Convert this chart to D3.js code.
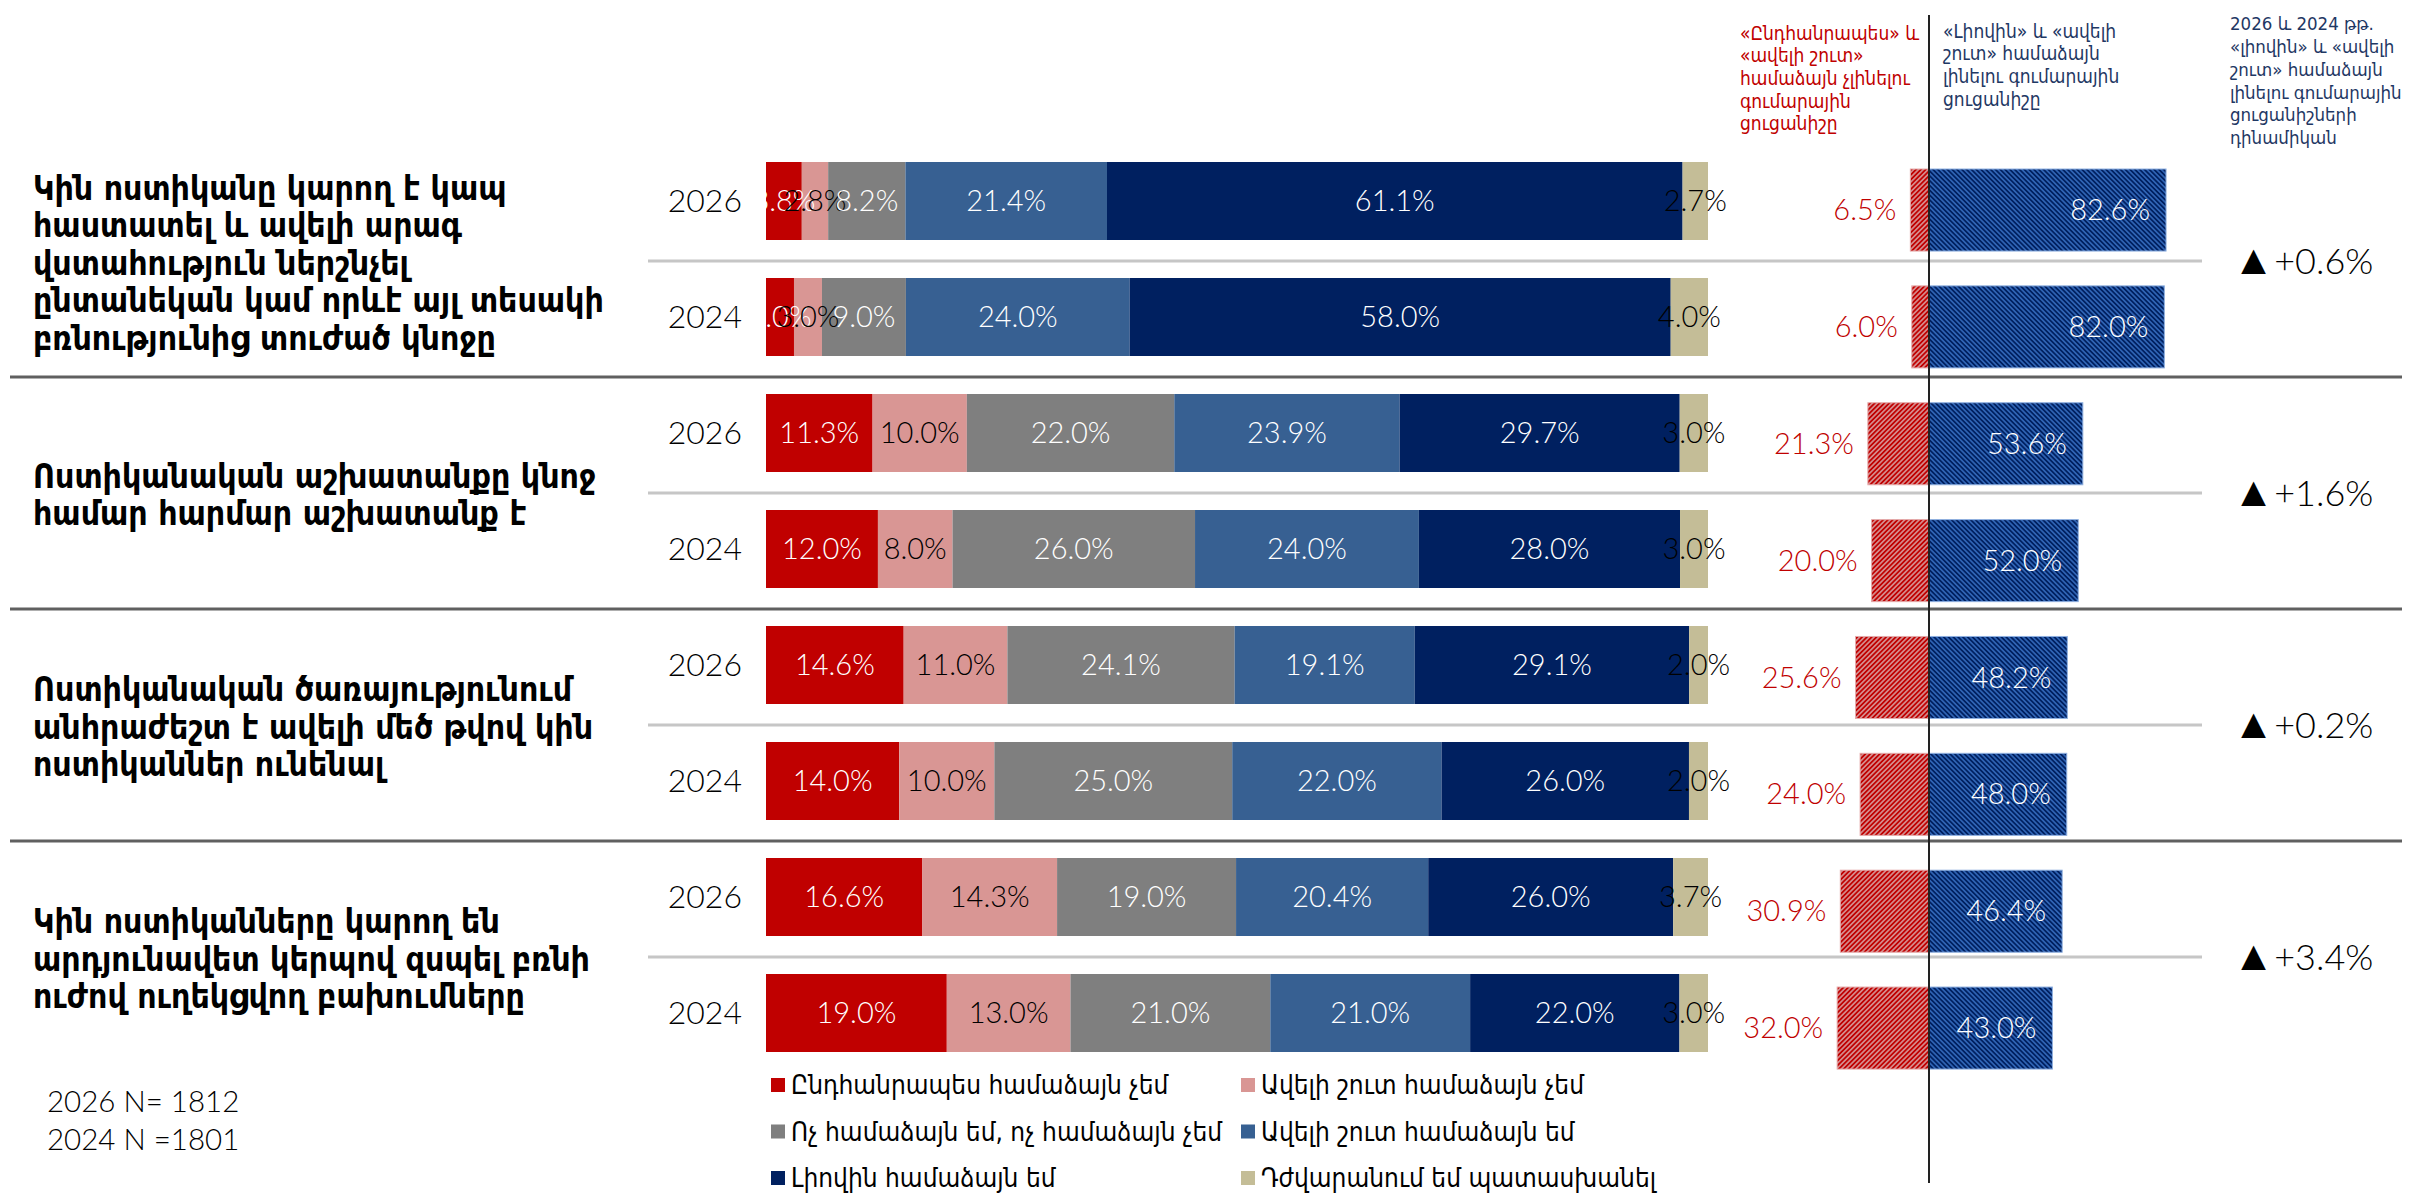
<!DOCTYPE html>
<html>
<head>
<meta charset="utf-8">
<script src="https://cdn.jsdelivr.net/npm/d3@7"></script>
<style>
  body { margin: 0; background: #fff; }
  svg { display: block; }
</style>
</head>
<body>
<svg id="chart" width="2409" height="1194"></svg>
<script>
// Survey statements (each entry is the wrapped lines of one statement)
const questions = [
  ["Կին ոստիկանը կարող է կապ", "հաստատել և ավելի արագ", "վստահություն ներշնչել", "ընտանեկան կամ որևէ այլ տեսակի", "բռնությունից տուժած կնոջը"],
  ["Ոստիկանական աշխատանքը կնոջ", "համար հարմար աշխատանք է"],
  ["Ոստիկանական ծառայությունում", "անհրաժեշտ է ավելի մեծ թվով կին", "ոստիկաններ ունենալ"],
  ["Կին ոստիկանները կարող են", "արդյունավետ կերպով զսպել բռնի", "ուժով ուղեկցվող բախումները"]
];
const years = ["2026", "2024"];
const categories = [
  "Ընդհանրապես համաձայն չեմ",
  "Ավելի շուտ համաձայն չեմ",
  "Ոչ համաձայն եմ, ոչ համաձայն չեմ",
  "Ավելի շուտ համաձայն եմ",
  "Լիովին համաձայն եմ",
  "Դժվարանում եմ պատասխանել"
];
const colors = ["#C00000", "#D99694", "#7F7F7F", "#376092", "#002060", "#C4BD97"];
const labelColors = ["#ffffff", "#000000", "#ffffff", "#ffffff", "#ffffff", "#000000"];

// Answer shares (%), one row per statement, in category order
const shares2026 = [
  [3.8, 2.8, 8.2, 21.4, 61.1, 2.7],
  [11.3, 10.0, 22.0, 23.9, 29.7, 3.0],
  [14.6, 11.0, 24.1, 19.1, 29.1, 2.0],
  [16.6, 14.3, 19.0, 20.4, 26.0, 3.7]
];
const shares2024 = [
  [3.0, 3.0, 9.0, 24.0, 58.0, 4.0],
  [12.0, 8.0, 26.0, 24.0, 28.0, 3.0],
  [14.0, 10.0, 25.0, 22.0, 26.0, 2.0],
  [19.0, 13.0, 21.0, 21.0, 22.0, 3.0]
];

// Summed "disagree" and "agree" shares (%)
const disagree2026 = [6.5, 21.3, 25.6, 30.9];
const disagree2024 = [6.0, 20.0, 24.0, 32.0];
const agree2026 = [82.6, 53.6, 48.2, 46.4];
const agree2024 = [82.0, 52.0, 48.0, 43.0];
// Change of the summed "agree" share, 2026 vs 2024 (percentage points)
const agreeChange = [0.6, 1.6, 0.2, 3.4];

const disagreeHeader = ["«Ընդհանրապես» և", "«ավելի շուտ»", "համաձայն չլինելու", "գումարային", "ցուցանիշը"];
const agreeHeader = ["«Լիովին» և «ավելի", "շուտ» համաձայն", "լինելու գումարային", "ցուցանիշը"];
const changeHeader = ["2026 և 2024 թթ.", "«լիովին» և «ավելի", "շուտ» համաձայն", "լինելու գումարային", "ցուցանիշների", "դինամիկան"];
const sampleNotes = ["2026 N= 1812", "2024 N =1801"];

const numFont = "Lato, 'Open Sans', sans-serif";
const armFont = "'DejaVu Sans Condensed', 'DejaVu Sans', sans-serif";

const svg = d3.select("#chart");
const fmt = d3.format(".1f");

// Flatten into bar rows: statement × year
const rows = [];
questions.forEach((q, qi) => {
  years.forEach((yr, yi) => {
    rows.push({
      key: qi + "-" + yr, qi, yr,
      shares: (yi === 0 ? shares2026 : shares2024)[qi],
      disagree: (yi === 0 ? disagree2026 : disagree2024)[qi],
      agree: (yi === 0 ? agree2026 : agree2024)[qi]
    });
  });
});

// Vertical band scales
const yMain = d3.scaleBand().domain(rows.map(r => r.key))
  .range([143, 1071]).paddingInner(0.3276).paddingOuter(0.1638);
const yDiv = d3.scaleBand().domain(rows.map(r => r.key))
  .range([151.6, 1086.5]).paddingInner(0.298).paddingOuter(0.149);

const mainX0 = 766, mainX1 = 1708;
const xDiv = d3.scaleLinear().domain([-100, 100]).range([1929 - 287, 1929 + 287]);

// Stripe patterns for the summed bars
const defs = svg.append("defs");
function stripes(id, base, stripe, angle) {
  const p = defs.append("pattern").attr("id", id)
    .attr("patternUnits", "userSpaceOnUse").attr("width", 3.4).attr("height", 3.4)
    .attr("patternTransform", `rotate(${angle})`);
  p.append("rect").attr("width", 3.4).attr("height", 3.4).attr("fill", base);
  p.append("rect").attr("width", 1.7).attr("height", 3.4).attr("fill", stripe);
}
stripes("hatchRed", "#C00000", "#D4898A", 45);
stripes("hatchBlue", "#002060", "#2F63B3", -45);

// Separator lines
const step = yMain.step();
const groupMid = qi => yMain(qi + "-2026") + yMain.bandwidth() + (step - yMain.bandwidth()) / 2 + 2;
questions.forEach((q, qi) => {
  const mid = groupMid(qi);
  svg.append("line").attr("x1", 648).attr("x2", 2202).attr("y1", mid).attr("y2", mid)
    .attr("stroke", "#C6C6C6").attr("stroke-width", 3);
  if (qi < questions.length - 1) {
    const sep = mid + step;
    svg.append("line").attr("x1", 10).attr("x2", 2402).attr("y1", sep).attr("y2", sep)
      .attr("stroke", "#606060").attr("stroke-width", 3);
  }
});

// Statement texts
const qLine = 37.5;
questions.forEach((lines, qi) => {
  const c = groupMid(qi) + 2;
  const t = svg.append("text").attr("x", 33)
    .attr("font-family", armFont).attr("font-weight", "bold").attr("font-size", 33.5).attr("fill", "#000");
  lines.forEach((ln, i) => {
    t.append("tspan").attr("x", 33)
      .attr("y", c + (i - (lines.length - 1) / 2) * qLine)
      .attr("dy", "0.35em").text(ln);
  });
});

// Year labels
svg.append("g").selectAll("text").data(rows).join("text")
  .attr("x", 742).attr("y", r => yMain(r.key) + yMain.bandwidth() / 2)
  .attr("dy", "0.35em").attr("text-anchor", "end")
  .attr("font-family", numFont).attr("font-weight", 300).attr("font-size", 32)
  .attr("fill", "#000").text(r => r.yr);

// 100% stacked bars
rows.forEach(r => {
  const total = d3.sum(r.shares);
  const x = d3.scaleLinear().domain([0, total]).range([mainX0, mainX1]);
  const cum = [0, ...d3.cumsum(r.shares)];
  const segs = r.shares.map((v, i) => ({ v, i, a: cum[i], b: cum[i + 1] }));
  const g = svg.append("g");
  g.selectAll("rect").data(segs).join("rect")
    .attr("x", d => x(d.a)).attr("width", d => x(d.b) - x(d.a))
    .attr("y", yMain(r.key)).attr("height", yMain.bandwidth())
    .attr("fill", d => colors[d.i]);
  g.selectAll("text").data(segs).join("text")
    .attr("x", d => (x(d.a) + x(d.b)) / 2)
    .attr("y", yMain(r.key) + yMain.bandwidth() / 2).attr("dy", "0.35em")
    .attr("text-anchor", "middle")
    .attr("font-family", numFont).attr("font-weight", 300).attr("font-size", 29)
    .attr("fill", d => labelColors[d.i]).text(d => fmt(d.v) + "%");
});

// Summed disagree / agree bars
const gd = svg.append("g");
gd.selectAll("rect.dis").data(rows).join("rect").attr("class", "dis")
  .attr("x", r => xDiv(-r.disagree)).attr("width", r => xDiv(0) - xDiv(-r.disagree))
  .attr("y", r => yDiv(r.key)).attr("height", yDiv.bandwidth())
  .attr("fill", "url(#hatchRed)").attr("stroke", "#E4A9A9").attr("stroke-width", 1);
gd.selectAll("rect.agr").data(rows).join("rect").attr("class", "agr")
  .attr("x", xDiv(0)).attr("width", r => xDiv(r.agree) - xDiv(0))
  .attr("y", r => yDiv(r.key)).attr("height", yDiv.bandwidth())
  .attr("fill", "url(#hatchBlue)").attr("stroke", "#8FB0E0").attr("stroke-width", 1);
gd.selectAll("text.dis").data(rows).join("text").attr("class", "dis")
  .attr("x", r => xDiv(-r.disagree) - 14).attr("y", r => yDiv(r.key) + yDiv.bandwidth() / 2)
  .attr("dy", "0.35em").attr("text-anchor", "end")
  .attr("font-family", numFont).attr("font-weight", 300).attr("font-size", 29)
  .attr("fill", "#C00000").text(r => fmt(r.disagree) + "%");
gd.selectAll("text.agr").data(rows).join("text").attr("class", "agr")
  .attr("x", r => xDiv(r.agree) - 16).attr("y", r => yDiv(r.key) + yDiv.bandwidth() / 2)
  .attr("dy", "0.35em").attr("text-anchor", "end")
  .attr("font-family", numFont).attr("font-weight", 300).attr("font-size", 29)
  .attr("fill", "#ffffff").text(r => fmt(r.agree) + "%");

// Zero axis
svg.append("line").attr("x1", xDiv(0)).attr("x2", xDiv(0)).attr("y1", 15).attr("y2", 1183)
  .attr("stroke", "#222").attr("stroke-width", 2);

// Column headers
function header(lines, x, y0, color, size) {
  const t = svg.append("text").attr("font-family", armFont).attr("font-size", size).attr("fill", color);
  lines.forEach((ln, i) => {
    t.append("tspan").attr("x", x).attr("y", y0 + i * 22.7).attr("dy", "0.35em").text(ln);
  });
}
header(disagreeHeader, 1740, 33, "#C00000", 19);
header(agreeHeader, 1943, 31, "#1F3864", 19);
header(changeHeader, 2230, 24, "#1F3864", 18.5);

// Change labels
questions.forEach((q, qi) => {
  const t = svg.append("text").attr("x", 2303).attr("y", groupMid(qi)).attr("dy", "0.35em")
    .attr("text-anchor", "middle").attr("font-family", numFont).attr("font-weight", 300)
    .attr("font-size", 36).attr("fill", "#000");
  t.append("tspan").attr("font-family", "'DejaVu Sans', sans-serif").attr("font-size", 42).text("▲");
  t.append("tspan").text((agreeChange[qi] >= 0 ? "+" : "") + fmt(agreeChange[qi]) + "%");
});

// Legend
const lg = svg.append("g");
categories.forEach((c, i) => {
  const col = i % 2, row = Math.floor(i / 2);
  const sx = col === 0 ? 771 : 1241;
  const cy = 1085 + row * 46.5;
  lg.append("rect").attr("x", sx).attr("y", cy - 7).attr("width", 14).attr("height", 14).attr("fill", colors[i]);
  lg.append("text").attr("x", sx + 20).attr("y", cy).attr("dy", "0.35em")
    .attr("font-family", armFont).attr("font-size", 26).attr("fill", "#000").text(c);
});

// Sample sizes
sampleNotes.forEach((s, i) => {
  svg.append("text").attr("x", 47).attr("y", 1102 + i * 38).attr("dy", "0.35em")
    .attr("font-family", numFont).attr("font-weight", 300).attr("font-size", 29.5).attr("fill", "#000").text(s);
});
</script>
</body>
</html>
